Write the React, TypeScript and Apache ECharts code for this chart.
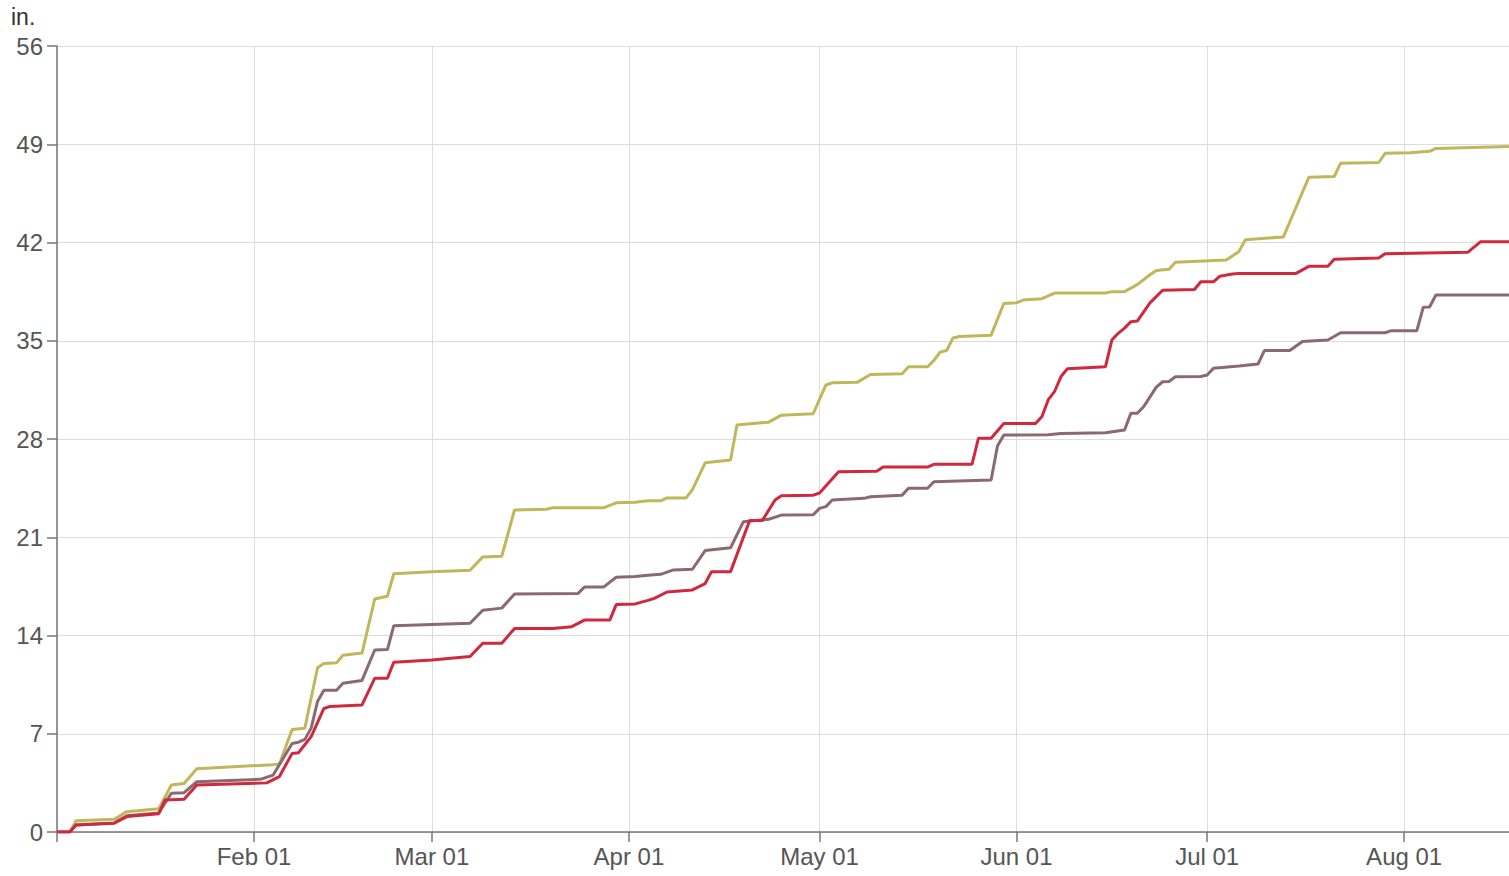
import React, { useEffect, useRef } from "react";
import * as echarts from "echarts";

const MONTHS = ["Jan", "Feb", "Mar", "Apr", "May", "Jun", "Jul", "Aug", "Sep", "Oct", "Nov", "Dec"];
const Y_TICKS = [0, 7, 14, 21, 28, 35, 42, 49, 56];
const Y_UNIT = "in.";
const X_START = "2023-01-01";
const X_END = "2023-08-17 12:00";

const seriesNames = ["Series A", "Series B", "Series C"];

const yellowData: [string, number][] = [
  ["2023-01-01", 0], ["2023-01-03", 0], ["2023-01-04", 0.8], ["2023-01-10", 0.9], ["2023-01-12", 1.45],
  ["2023-01-17", 1.65], ["2023-01-19", 3.35], ["2023-01-21", 3.45], ["2023-01-23", 4.5], ["2023-02-04", 4.8],
  ["2023-02-05", 4.85], ["2023-02-07", 7.3], ["2023-02-09", 7.4], ["2023-02-11", 11.7], ["2023-02-12", 12.0],
  ["2023-02-14", 12.05], ["2023-02-15", 12.6], ["2023-02-18", 12.75], ["2023-02-20", 16.6], ["2023-02-22", 16.8],
  ["2023-02-23", 18.4], ["2023-03-01", 18.55], ["2023-03-07", 18.65], ["2023-03-09", 19.6], ["2023-03-12", 19.65],
  ["2023-03-14", 22.95], ["2023-03-19", 23.0], ["2023-03-20", 23.1], ["2023-03-28", 23.1], ["2023-03-30", 23.45],
  ["2023-04-02", 23.5], ["2023-04-04", 23.6], ["2023-04-06", 23.6], ["2023-04-07", 23.8], ["2023-04-10", 23.8],
  ["2023-04-11", 24.4], ["2023-04-13", 26.3], ["2023-04-17", 26.5], ["2023-04-18", 29.0], ["2023-04-23", 29.2],
  ["2023-04-25", 29.7], ["2023-04-30", 29.8], ["2023-05-02", 31.85], ["2023-05-03", 32.0], ["2023-05-07", 32.05],
  ["2023-05-09", 32.6], ["2023-05-14", 32.65], ["2023-05-15", 33.15], ["2023-05-18", 33.15], ["2023-05-19", 33.6],
  ["2023-05-20", 34.2], ["2023-05-21", 34.3], ["2023-05-22", 35.2], ["2023-05-23", 35.3], ["2023-05-28", 35.4],
  ["2023-05-30", 37.65], ["2023-06-01", 37.7], ["2023-06-02", 37.9], ["2023-06-05", 38.0], ["2023-06-07", 38.4],
  ["2023-06-15", 38.4], ["2023-06-16", 38.5], ["2023-06-18", 38.5], ["2023-06-20", 39.0], ["2023-06-22", 39.7],
  ["2023-06-23", 40.0], ["2023-06-25", 40.1], ["2023-06-26", 40.6], ["2023-07-04", 40.75], ["2023-07-06", 41.35],
  ["2023-07-07", 42.2], ["2023-07-13", 42.4], ["2023-07-17", 46.65], ["2023-07-21", 46.7], ["2023-07-22", 47.65],
  ["2023-07-28", 47.7], ["2023-07-29", 48.35], ["2023-08-02", 48.4], ["2023-08-04", 48.47], ["2023-08-05", 48.5],
  ["2023-08-06", 48.7], ["2023-08-18", 48.85],
];

const brownData: [string, number][] = [
  ["2023-01-01", 0], ["2023-01-03", 0], ["2023-01-04", 0.5], ["2023-01-10", 0.65], ["2023-01-12", 1.15],
  ["2023-01-17", 1.35], ["2023-01-19", 2.76], ["2023-01-21", 2.8], ["2023-01-23", 3.58], ["2023-02-02", 3.75],
  ["2023-02-04", 4.05], ["2023-02-07", 6.3], ["2023-02-08", 6.4], ["2023-02-09", 6.6], ["2023-02-10", 7.4],
  ["2023-02-11", 9.3], ["2023-02-12", 10.1], ["2023-02-14", 10.1], ["2023-02-15", 10.6], ["2023-02-18", 10.8],
  ["2023-02-20", 12.97], ["2023-02-22", 13.0], ["2023-02-23", 14.7], ["2023-03-07", 14.87], ["2023-03-09", 15.8],
  ["2023-03-12", 15.95], ["2023-03-14", 16.95], ["2023-03-24", 17.0], ["2023-03-25", 17.45], ["2023-03-28", 17.45],
  ["2023-03-30", 18.15], ["2023-04-02", 18.2], ["2023-04-04", 18.3], ["2023-04-06", 18.36], ["2023-04-08", 18.67],
  ["2023-04-11", 18.72], ["2023-04-13", 20.05], ["2023-04-17", 20.25], ["2023-04-19", 22.1], ["2023-04-23", 22.28],
  ["2023-04-25", 22.58], ["2023-04-30", 22.6], ["2023-05-01", 23.06], ["2023-05-02", 23.18], ["2023-05-03", 23.65],
  ["2023-05-08", 23.77], ["2023-05-09", 23.89], ["2023-05-14", 24.0], ["2023-05-15", 24.49], ["2023-05-18", 24.49],
  ["2023-05-19", 24.96], ["2023-05-28", 25.08], ["2023-05-29", 27.5], ["2023-05-30", 28.28], ["2023-06-06", 28.3],
  ["2023-06-08", 28.4], ["2023-06-15", 28.45], ["2023-06-18", 28.64], ["2023-06-19", 29.83], ["2023-06-20", 29.83],
  ["2023-06-21", 30.3], ["2023-06-22", 31.0], ["2023-06-23", 31.7], ["2023-06-24", 32.08], ["2023-06-25", 32.1],
  ["2023-06-26", 32.44], ["2023-06-30", 32.45], ["2023-07-01", 32.56], ["2023-07-02", 33.04], ["2023-07-06", 33.2],
  ["2023-07-09", 33.34], ["2023-07-10", 34.3], ["2023-07-14", 34.3], ["2023-07-16", 34.95], ["2023-07-20", 35.05],
  ["2023-07-22", 35.57], ["2023-07-29", 35.57], ["2023-07-30", 35.72], ["2023-08-03", 35.72], ["2023-08-04", 37.38],
  ["2023-08-05", 37.4], ["2023-08-06", 38.26], ["2023-08-18", 38.26],
];

const redData: [string, number][] = [
  ["2023-01-01", 0], ["2023-01-03", 0], ["2023-01-04", 0.5], ["2023-01-10", 0.62], ["2023-01-12", 1.1],
  ["2023-01-17", 1.3], ["2023-01-18", 2.28], ["2023-01-21", 2.33], ["2023-01-23", 3.35], ["2023-02-03", 3.5],
  ["2023-02-05", 3.95], ["2023-02-07", 5.6], ["2023-02-08", 5.65], ["2023-02-10", 6.8], ["2023-02-12", 8.8],
  ["2023-02-13", 8.95], ["2023-02-18", 9.05], ["2023-02-20", 10.95], ["2023-02-22", 10.95], ["2023-02-23", 12.1],
  ["2023-03-01", 12.25], ["2023-03-07", 12.5], ["2023-03-09", 13.45], ["2023-03-12", 13.45], ["2023-03-14", 14.5],
  ["2023-03-20", 14.5], ["2023-03-23", 14.63], ["2023-03-25", 15.1], ["2023-03-29", 15.1], ["2023-03-30", 16.2],
  ["2023-04-02", 16.25], ["2023-04-04", 16.5], ["2023-04-05", 16.65], ["2023-04-07", 17.1], ["2023-04-11", 17.25],
  ["2023-04-13", 17.7], ["2023-04-14", 18.55], ["2023-04-17", 18.55], ["2023-04-20", 22.2], ["2023-04-22", 22.2],
  ["2023-04-24", 23.65], ["2023-04-25", 23.95], ["2023-04-30", 24.0], ["2023-05-01", 24.15], ["2023-05-04", 25.67],
  ["2023-05-10", 25.7], ["2023-05-11", 26.0], ["2023-05-18", 26.0], ["2023-05-19", 26.2], ["2023-05-25", 26.2],
  ["2023-05-26", 28.05], ["2023-05-28", 28.05], ["2023-05-30", 29.1], ["2023-06-04", 29.1], ["2023-06-05", 29.6],
  ["2023-06-06", 30.8], ["2023-06-07", 31.4], ["2023-06-08", 32.45], ["2023-06-09", 33.0], ["2023-06-15", 33.15],
  ["2023-06-16", 35.05], ["2023-06-17", 35.53], ["2023-06-18", 35.9], ["2023-06-19", 36.36], ["2023-06-20", 36.4],
  ["2023-06-22", 37.7], ["2023-06-24", 38.6], ["2023-06-29", 38.65], ["2023-06-30", 39.2], ["2023-07-02", 39.2],
  ["2023-07-03", 39.6], ["2023-07-05", 39.75], ["2023-07-06", 39.8], ["2023-07-15", 39.8], ["2023-07-17", 40.3],
  ["2023-07-20", 40.3], ["2023-07-21", 40.8], ["2023-07-28", 40.9], ["2023-07-29", 41.2], ["2023-08-11", 41.3],
  ["2023-08-13", 42.05], ["2023-08-18", 42.05],
];

const seriesData = [yellowData, brownData, redData];
const seriesColors = ["#c2b65a", "#8a6a6e", "#d0283d"];

function pad(n: number) {
  return n < 10 ? "0" + n : String(n);
}

export default function App() {
  const ref = useRef<HTMLDivElement>(null);

  useEffect(() => {
    if (!ref.current) return;
    const chart = echarts.init(ref.current, undefined, { renderer: "svg" });
    const font = "Arial, 'Liberation Sans', sans-serif";
    const option: any = {
      animation: false,
      backgroundColor: "#ffffff",
      grid: { left: 57, top: 46, right: 0, bottom: 44, containLabel: false },
      graphic: [
        {
          type: "text",
          left: 11,
          top: 5,
          style: { text: Y_UNIT, fontSize: 23, fill: "#333333", fontFamily: font },
        },
      ],
      xAxis: {
        type: "time",
        min: X_START,
        max: X_END,
        splitNumber: 8,
        maxInterval: 31 * 24 * 3600 * 1000,
        axisLine: { show: true, lineStyle: { color: "#777777", width: 1.5 } },
        axisTick: { show: true, length: 10, lineStyle: { color: "#777777", width: 1.5 } },
        splitLine: { show: true, lineStyle: { color: "#dcdcdc", width: 1 } },
        axisLabel: {
          fontSize: 24,
          color: "#555555",
          fontFamily: font,
          margin: 12,
          showMinLabel: false,
          formatter: (val: number) => {
            const d = new Date(val);
            if (d.getMonth() === 0 && d.getDate() === 1) return "";
            return MONTHS[d.getMonth()] + " " + pad(d.getDate());
          },
        },
      },
      yAxis: {
        type: "value",
        min: Y_TICKS[0],
        max: Y_TICKS[Y_TICKS.length - 1],
        interval: Y_TICKS[1] - Y_TICKS[0],
        axisLine: { show: true, lineStyle: { color: "#777777", width: 1.5 } },
        axisTick: { show: true, length: 10, lineStyle: { color: "#777777", width: 1.5 } },
        splitLine: { show: true, lineStyle: { color: "#dcdcdc", width: 1 } },
        axisLabel: { fontSize: 24, color: "#555555", fontFamily: font, margin: 14 },
      },
      series: seriesData.map((data, i) => ({
        name: seriesNames[i],
        type: "line",
        data,
        showSymbol: false,
        symbol: "none",
        lineStyle: { color: seriesColors[i], width: 3 },
        itemStyle: { color: seriesColors[i] },
        z: 2 + i,
      })),
    };
    chart.setOption(option);
    return () => chart.dispose();
  }, []);

  return (
    <div
      ref={ref}
      style={{ position: "fixed", left: 0, top: 0, width: 1509, height: 876, background: "#fff" }}
    />
  );
}
